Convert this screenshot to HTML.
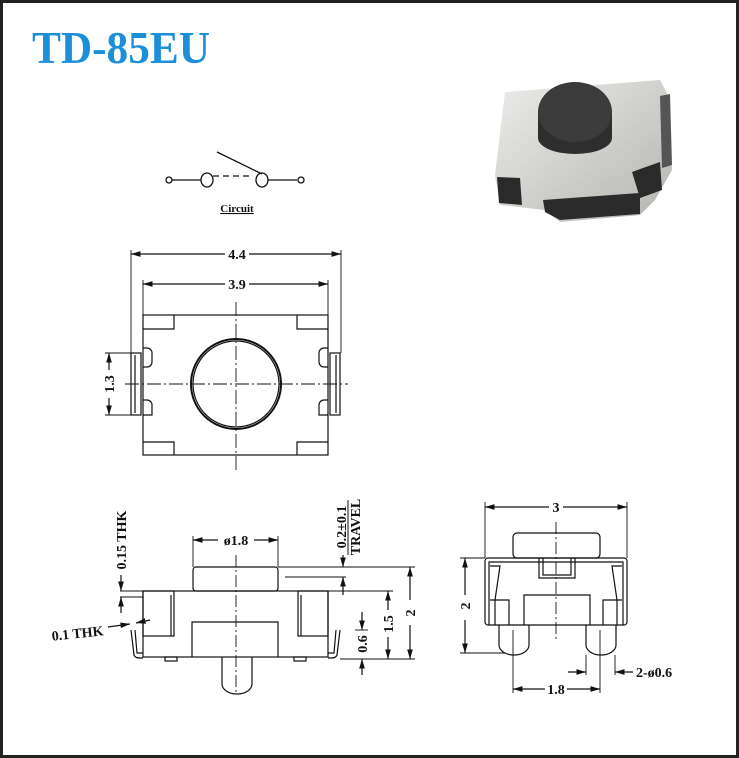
<!DOCTYPE html>
<html><head><style>
html,body{margin:0;padding:0;background:#fff;}
svg{display:block;}
text{font-family:"Liberation Serif",serif;fill:#111;}
</style></head><body>
<svg width="739" height="758" viewBox="0 0 739 758" xmlns="http://www.w3.org/2000/svg">
<defs>
<marker id="a" viewBox="0 0 10 6" refX="10" refY="3" markerWidth="8" markerHeight="5" orient="auto-start-reverse"><path d="M0,0L10,3L0,6z" fill="#111"/></marker>
<linearGradient id="sv" x1="0" y1="0" x2="1" y2="1"><stop offset="0" stop-color="#ececea"/><stop offset="1" stop-color="#b4b4b0"/></linearGradient>
</defs>
<rect x="1.5" y="1.5" width="736" height="755" fill="#fff" stroke="#222" stroke-width="3"/>
<text x="32" y="63" font-size="46" font-weight="bold" textLength="178" lengthAdjust="spacingAndGlyphs" style="fill:#1b8fd8">TD-85EU</text>

<!-- circuit -->
<g stroke="#111" stroke-width="1.3" fill="none">
<circle cx="169" cy="180" r="3"/><line x1="172" y1="180" x2="201" y2="180"/>
<ellipse cx="207" cy="180" rx="6" ry="7"/><line x1="213" y1="176" x2="253" y2="176" stroke-dasharray="6,4"/>
<ellipse cx="262" cy="180" rx="6" ry="7"/><line x1="268" y1="180" x2="297" y2="180"/><circle cx="301" cy="180" r="3"/>
<line x1="217" y1="152" x2="262" y2="174"/>
</g>
<text x="237" y="212" font-size="11" font-weight="bold" text-anchor="middle" text-decoration="underline">Circuit</text>

<!-- photo -->
<g>
<polygon points="505,92 660,80 668,95 672,170 655,200 640,215 560,222 545,210 500,205 495,175" fill="url(#sv)"/>
<polygon points="497,177 520,178 522,205 499,203" fill="#2a2a2a"/>
<polygon points="543,200 640,193 640,214 560,220 545,212" fill="#2b2b2b"/>
<polygon points="632,172 660,162 662,190 640,198" fill="#2a2a2a"/>
<polygon points="660,96 670,94 672,165 662,168" fill="#555"/>
<path d="M538,110 L538,138 A37,16 0 0 0 612,138 L612,110z" fill="#2e2e2e"/>
<ellipse cx="575" cy="112" rx="37" ry="30" fill="#3b3b3b"/>
</g>

<g stroke="#111" stroke-width="1.2" fill="none">
<!-- top view -->
<rect x="143" y="315" width="185" height="140"/>
<path d="M143,329H174V315M328,329H297V315M143,442H174V455M328,442H297V455"/>
<path d="M143,348h4a5,5 0 0 1 5,5v9a5,5 0 0 1 -5,5h-4M143,400h4a5,5 0 0 1 5,5v10h-9M328,348h-4a5,5 0 0 0 -5,5v9a5,5 0 0 0 5,5h4M328,400h-4a5,5 0 0 0 -5,5v10h9"/>
<rect x="131" y="353" width="10" height="62"/><rect x="330" y="353" width="10" height="62"/>
<line x1="135" y1="355" x2="135" y2="413"/><line x1="336" y1="355" x2="336" y2="413"/>
<circle cx="236" cy="384" r="45" stroke-width="2"/><circle cx="236" cy="384" r="43"/>
<line x1="125" y1="384" x2="348" y2="384" stroke-dasharray="14,3,2,3" stroke-width="0.9"/>
<line x1="236" y1="302" x2="236" y2="472" stroke-dasharray="14,3,2,3" stroke-width="0.9"/>
<line x1="131" y1="250" x2="131" y2="353" stroke-width="0.9"/><line x1="341" y1="250" x2="341" y2="353" stroke-width="0.9"/>
<line x1="143" y1="280" x2="143" y2="315" stroke-width="0.9"/><line x1="328" y1="280" x2="328" y2="315" stroke-width="0.9"/>
<line x1="131" y1="254" x2="225" y2="254" marker-start="url(#a)"/><line x1="249" y1="254" x2="341" y2="254" marker-end="url(#a)"/>
<line x1="143" y1="284" x2="225" y2="284" marker-start="url(#a)"/><line x1="249" y1="284" x2="328" y2="284" marker-end="url(#a)"/>
<line x1="105" y1="353" x2="131" y2="353" stroke-width="0.9"/><line x1="105" y1="415" x2="131" y2="415" stroke-width="0.9"/>
<line x1="109" y1="353" x2="109" y2="370" marker-start="url(#a)"/><line x1="109" y1="398" x2="109" y2="415" marker-end="url(#a)"/>

<!-- side view left -->
<rect x="143" y="591" width="185" height="66"/>
<rect x="193" y="567" width="85" height="24" rx="3"/>
<path d="M192,657V622H278V657"/>
<rect x="143" y="591" width="31" height="45"/><rect x="298" y="591" width="30" height="45"/>
<path d="M171,595V636M301,595V636"/>
<path d="M131,630L134,655Q135,658 140,658H143M340,630L337,655Q336,658 331,658H328"/>
<path d="M135,630L137,653H143M336,630L334,653H328"/>
<path d="M222,657V684a15,10 0 0 0 30,0V657"/>
<rect x="165" y="657" width="12" height="4"/><rect x="294" y="657" width="12" height="4"/>
<line x1="236" y1="555" x2="236" y2="695" stroke-dasharray="12,3,2,3" stroke-width="0.9"/>
<line x1="193" y1="536" x2="193" y2="567" stroke-width="0.9"/><line x1="278" y1="536" x2="278" y2="567" stroke-width="0.9"/>
<line x1="193" y1="540" x2="218" y2="540" marker-start="url(#a)"/><line x1="254" y1="540" x2="278" y2="540" marker-end="url(#a)"/>
<line x1="278" y1="567" x2="415" y2="567" stroke-width="0.9"/>
<line x1="285" y1="577" x2="346" y2="577" stroke-width="0.9"/>
<line x1="328" y1="591" x2="393" y2="591" stroke-width="0.9"/>
<line x1="340" y1="659" x2="415" y2="659" stroke-width="0.9"/>
<line x1="343" y1="555" x2="343" y2="567" marker-end="url(#a)"/><line x1="343" y1="595" x2="343" y2="577" marker-end="url(#a)"/>
<line x1="410" y1="567" x2="410" y2="600" marker-start="url(#a)"/><line x1="410" y1="625" x2="410" y2="659" marker-end="url(#a)"/>
<line x1="388" y1="591" x2="388" y2="610" marker-start="url(#a)"/><line x1="388" y1="637" x2="388" y2="659" marker-end="url(#a)"/>
<line x1="355" y1="630" x2="368" y2="630" stroke-width="0.9"/>
<line x1="362" y1="612" x2="362" y2="630" marker-end="url(#a)"/><line x1="362" y1="675" x2="362" y2="659" marker-end="url(#a)"/>
<line x1="120" y1="591" x2="143" y2="591" stroke-width="0.9"/><line x1="120" y1="597" x2="143" y2="597" stroke-width="0.9"/>
<line x1="121" y1="575" x2="121" y2="591" marker-end="url(#a)"/><line x1="121" y1="613" x2="121" y2="597" marker-end="url(#a)"/>
<line x1="108" y1="627" x2="130" y2="624" marker-end="url(#a)"/><line x1="150" y1="620" x2="136" y2="623" marker-end="url(#a)"/>

<!-- front view right -->
<rect x="485" y="558" width="142" height="67" rx="3"/>
<path d="M489,625V562H623V625"/>
<path d="M490,566L500,566L495,600V625M622,566L612,566L617,600V625"/>
<rect x="513" y="533" width="87" height="25" rx="4"/>
<path d="M539,558V578H575V558M543,558V575H571V558"/>
<path d="M524,625V595H590V625"/>
<path d="M490,600H509V625M622,600H603V625"/>
<path d="M499,625V645a15,10 0 0 0 30,0V625M586,625V645a15,10 0 0 0 30,0V625"/>
<line x1="556" y1="522" x2="556" y2="640" stroke-dasharray="12,3,2,3" stroke-width="0.9"/>
<line x1="485" y1="502" x2="485" y2="558" stroke-width="0.9"/><line x1="627" y1="502" x2="627" y2="558" stroke-width="0.9"/>
<line x1="485" y1="507" x2="549" y2="507" marker-start="url(#a)"/><line x1="563" y1="507" x2="627" y2="507" marker-end="url(#a)"/>
<line x1="460" y1="558" x2="485" y2="558" stroke-width="0.9"/><line x1="460" y1="653" x2="505" y2="653" stroke-width="0.9"/>
<line x1="465" y1="558" x2="465" y2="595" marker-start="url(#a)"/><line x1="465" y1="620" x2="465" y2="653" marker-end="url(#a)"/>
<line x1="513" y1="630" x2="513" y2="693" stroke-width="0.9"/><line x1="600" y1="630" x2="600" y2="693" stroke-width="0.9"/>
<line x1="513" y1="689" x2="545" y2="689" marker-start="url(#a)"/><line x1="567" y1="689" x2="600" y2="689" marker-end="url(#a)"/>
<line x1="586" y1="655" x2="586" y2="675" stroke-width="0.9"/><line x1="615" y1="655" x2="615" y2="675" stroke-width="0.9"/>
<line x1="568" y1="672" x2="586" y2="672" marker-end="url(#a)"/><line x1="633" y1="672" x2="615" y2="672" marker-end="url(#a)"/>
</g>

<g font-size="14" font-weight="bold">
<text x="237" y="259" text-anchor="middle">4.4</text>
<text x="237" y="289" text-anchor="middle">3.9</text>
<text transform="translate(114,384) rotate(-90)" text-anchor="middle">1.3</text>
<text x="236" y="545" text-anchor="middle">ø1.8</text>
<text transform="translate(126,540) rotate(-90)" text-anchor="middle">0.15 THK</text>
<text transform="translate(346,527) rotate(-90)" text-anchor="middle">0.2±0.1</text>
<text transform="translate(360,527) rotate(-90)" text-anchor="middle">TRAVEL</text>
<line x1="348" y1="500" x2="348" y2="555" stroke="#111" stroke-width="1"/>
<text transform="translate(78,638) rotate(-6)" text-anchor="middle">0.1 THK</text>
<text transform="translate(415,613) rotate(-90)" text-anchor="middle">2</text>
<text transform="translate(393,624) rotate(-90)" text-anchor="middle">1.5</text>
<text transform="translate(367,644) rotate(-90)" text-anchor="middle">0.6</text>
<text x="556" y="512" text-anchor="middle">3</text>
<text transform="translate(470,606) rotate(-90)" text-anchor="middle">2</text>
<text x="556" y="694" text-anchor="middle">1.8</text>
<text x="636" y="677">2-ø0.6</text>
</g>
</svg>
</body></html>
